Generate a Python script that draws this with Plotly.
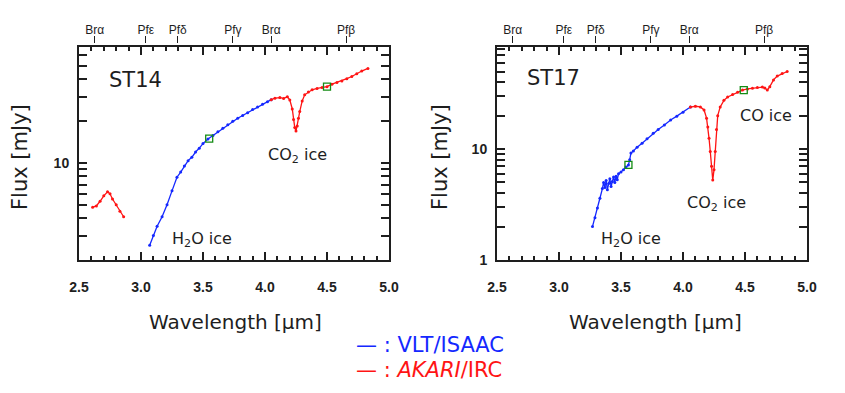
import plotly.graph_objects as go

# ---------------------------------------------------------------
# data (wavelength in um, flux in mJy)
# ---------------------------------------------------------------
st14_vlt_wl = [3.07, 3.10, 3.13, 3.17, 3.21, 3.25, 3.29, 3.32, 3.35, 3.38,
               3.41, 3.44, 3.47, 3.50, 3.54, 3.58, 3.62, 3.66, 3.70, 3.74,
               3.78, 3.82, 3.86, 3.90, 3.94, 3.98, 4.02, 4.05]
st14_vlt_flux = [2.55, 3.0, 3.5, 4.1, 5.0, 6.3, 7.9, 8.6, 9.5, 10.4,
                 11.0, 12.0, 12.8, 13.8, 14.9, 15.8, 16.8, 17.8, 18.9, 20.0,
                 21.0, 22.0, 23.0, 24.3, 25.3, 26.5, 27.6, 28.6]

st14_irc_short_wl = [2.61, 2.64, 2.67, 2.70, 2.73, 2.75, 2.77, 2.80, 2.83, 2.86]
st14_irc_short_flux = [4.8, 4.9, 5.3, 5.8, 6.2, 6.0, 5.5, 5.0, 4.5, 4.1]

st14_irc_wl = [4.05, 4.08, 4.12, 4.15, 4.18, 4.20, 4.22, 4.23, 4.24, 4.25,
               4.26, 4.27, 4.28, 4.30, 4.32, 4.35, 4.38, 4.42, 4.46, 4.50,
               4.54, 4.58, 4.62, 4.66, 4.70, 4.74, 4.78, 4.83]
st14_irc_flux = [28.6, 29.3, 29.6, 29.2, 30.0, 28.5, 24.5, 20.6, 18.0, 17.0,
                 18.5, 21.0, 23.5, 28.0, 31.0, 32.5, 33.7, 34.5, 35.0, 35.5,
                 37.0, 38.0, 39.0, 40.5, 42.0, 44.0, 46.0, 48.0]

st17_vlt_wl = [3.27, 3.29, 3.31, 3.33, 3.35, 3.36, 3.37, 3.38, 3.39, 3.40,
               3.41, 3.42, 3.43, 3.44, 3.45, 3.46, 3.47, 3.48, 3.50, 3.52,
               3.54, 3.56, 3.57, 3.58, 3.60, 3.63, 3.67, 3.71, 3.76, 3.80,
               3.85, 3.90, 3.95, 4.00, 4.06]
st17_vlt_flux = [2.0, 2.4, 2.95, 3.6, 4.4, 5.0, 4.5, 5.2, 4.3, 4.9,
                 5.4, 4.6, 5.1, 5.6, 5.0, 5.7, 5.3, 6.0, 6.2, 6.5,
                 6.9, 7.2, 8.0, 9.2, 9.6, 10.4, 11.3, 12.4, 13.9, 15.0,
                 16.5, 18.3, 19.8, 21.5, 23.9]

st17_irc_wl = [4.06, 4.10, 4.14, 4.17, 4.19, 4.20, 4.21, 4.22, 4.23, 4.24,
               4.25, 4.26, 4.27, 4.28, 4.30, 4.33, 4.36, 4.40, 4.44, 4.48,
               4.52, 4.56, 4.60, 4.64, 4.66, 4.68, 4.70, 4.73, 4.76, 4.80, 4.84]
st17_irc_flux = [23.9, 24.3, 24.0, 22.5, 19.0, 15.8, 12.5, 9.5, 7.0, 5.25,
                 6.5, 9.5, 15.0, 20.0, 24.0, 27.5, 29.5, 31.0, 32.5, 34.0,
                 34.8, 35.3, 35.8, 36.2, 35.5, 34.0, 36.5, 42.0, 45.5, 48.0, 50.0]

# photometry points (green squares)
st14_phot_wl = [3.55, 4.50]
st14_phot_flux = [15.0, 35.5]
st17_phot_wl = [3.56, 4.49]
st17_phot_flux = [7.2, 34.0]

# hydrogen recombination lines on the top axis
line_wl = [2.626, 3.039, 3.296, 3.741, 4.051, 4.654]
line_names = ['Brα', 'Pfε', 'Pfδ', 'Pfγ', 'Brα', 'Pfβ']

BLUE = 'rgb(20,40,255)'
RED = 'rgb(255,20,20)'
GREEN = 'rgb(20,140,20)'
INK = 'rgb(30,30,30)'
TICKFONT = dict(family='Liberation Sans', size=14, color=INK, weight='bold')
HAND = 'DejaVu Sans'

# the page body keeps its 8px margin, so the figure is drawn 8px in
OFF = 8
W, H = 845 - OFF, 393 - OFF


def px(v):
    return (v - OFF) / W


def py(v):
    return 1 - (v - OFF) / H


def spectrum(x, y, color, xa, ya):
    return go.Scatter(x=x, y=y, mode='lines+markers', xaxis=xa, yaxis=ya,
                      line=dict(color=color, width=1.3),
                      marker=dict(color=color, size=3),
                      showlegend=False, hoverinfo='skip')


def phot(x, y, xa, ya):
    return go.Scatter(x=x, y=y, mode='markers', xaxis=xa, yaxis=ya,
                      marker=dict(symbol='square-open', color=GREEN, size=7,
                                  line=dict(width=1.3)),
                      showlegend=False, hoverinfo='skip')


fig = go.Figure()
fig.add_trace(spectrum(st14_irc_short_wl, st14_irc_short_flux, RED, 'x', 'y'))
fig.add_trace(spectrum(st14_vlt_wl, st14_vlt_flux, BLUE, 'x', 'y'))
fig.add_trace(spectrum(st14_irc_wl, st14_irc_flux, RED, 'x', 'y'))
fig.add_trace(phot(st14_phot_wl, st14_phot_flux, 'x', 'y'))
fig.add_trace(spectrum(st17_vlt_wl, st17_vlt_flux, BLUE, 'x2', 'y2'))
fig.add_trace(spectrum(st17_irc_wl, st17_irc_flux, RED, 'x2', 'y2'))
fig.add_trace(phot(st17_phot_wl, st17_phot_flux, 'x2', 'y2'))
# invisible traces to activate the top (line-id) axes
fig.add_trace(go.Scatter(x=[2.5], y=[10], xaxis='x3', yaxis='y', mode='markers',
                         marker=dict(opacity=0), showlegend=False, hoverinfo='skip'))
fig.add_trace(go.Scatter(x=[2.5], y=[10], xaxis='x4', yaxis='y2', mode='markers',
                         marker=dict(opacity=0), showlegend=False, hoverinfo='skip'))

ydom = [py(260), py(47)]


def xax(dom, anchor):
    return dict(domain=dom, anchor=anchor, range=[2.5, 5.0], automargin=False,
                showline=True, linecolor=INK, linewidth=2, mirror='allticks',
                ticks='inside', ticklen=8, tickwidth=2, tickcolor=INK,
                dtick=0.5, tick0=2.5, tickformat='.1f',
                minor=dict(dtick=0.1, tick0=2.5, ticks='inside', ticklen=4,
                           tickwidth=2, tickcolor=INK),
                tickfont=TICKFONT, ticklabelstandoff=13,
                showgrid=False, zeroline=False)


def topax(overlay, dom):
    return dict(overlaying=overlay, domain=dom, anchor='free', position=py(43),
                side='top', range=[2.5, 5.0], showline=False, automargin=False,
                tickmode='array', tickvals=line_wl, ticktext=line_names,
                ticks='outside', ticklen=7, tickwidth=1, tickcolor=INK,
                tickfont=dict(family='Liberation Sans', size=12, color=INK),
                ticklabelstandoff=-3,
                showgrid=False, zeroline=False)


def yax(anchor, rng, vals, texts, minor_vals):
    return dict(domain=ydom, anchor=anchor, type='log', range=rng, automargin=False,
                showline=True, linecolor=INK, linewidth=2, mirror='allticks',
                ticks='inside', ticklen=8, tickwidth=2, tickcolor=INK,
                tickmode='array', tickvals=vals, ticktext=texts,
                minor=dict(tickmode='array', tickvals=minor_vals, ticks='inside',
                           ticklen=4, tickwidth=2, tickcolor=INK),
                tickfont=TICKFONT, ticklabelstandoff=5,
                showgrid=False, zeroline=False)


left_dom = [px(79), px(389)]
right_dom = [px(497), px(807)]

fig.update_layout(
    width=W, height=H,
    margin=dict(l=0, r=0, t=0, b=0),
    paper_bgcolor='white', plot_bgcolor='white',
    xaxis=xax(left_dom, 'y'),
    xaxis2=xax(right_dom, 'y2'),
    xaxis3=topax('x', left_dom),
    xaxis4=topax('x2', right_dom),
    yaxis=yax('x', [0.301, 1.836], [10], ['10'],
              [3, 4, 5, 6, 7, 8, 9, 20, 30, 40, 50, 60]),
    yaxis2=yax('x2', [0.0, 1.92], [1, 10], ['1', '10'],
               [2, 3, 4, 5, 6, 7, 8, 9, 20, 30, 40, 50, 60, 70, 80]),
)


def note(x, y, text, size=14, color=INK, angle=0, xanchor='center'):
    fig.add_annotation(x=px(x), y=py(y), xref='paper', yref='paper',
                       text=text, showarrow=False, textangle=angle,
                       xanchor=xanchor, yanchor='middle',
                       font=dict(family=HAND, size=size, color=color))


# panel labels and ice features
note(107, 80, 'ST14', size=21, xanchor='left')
note(525, 78, 'ST17', size=21, xanchor='left')
note(297, 155, 'CO<sub>2</sub> ice', size=16)
note(202, 239, 'H<sub>2</sub>O ice', size=16)
note(766, 115, 'CO ice', size=16)
note(716, 204, 'CO<sub>2</sub> ice', size=16)
note(631, 239, 'H<sub>2</sub>O ice', size=16)

# axis titles
note(235, 322, 'Wavelength [μm]', size=20)
note(655, 322, 'Wavelength [μm]', size=20)
note(20, 157, 'Flux [mJy]', size=21, angle=-90)
note(440, 157, 'Flux [mJy]', size=21, angle=-90)

# legend written as text
note(354, 345, '— : VLT/ISAAC', size=21, color=BLUE, xanchor='left')
note(354, 370, '— : <i>AKARI</i>/IRC', size=21, color=RED, xanchor='left')

fig.write_html("out.html")
